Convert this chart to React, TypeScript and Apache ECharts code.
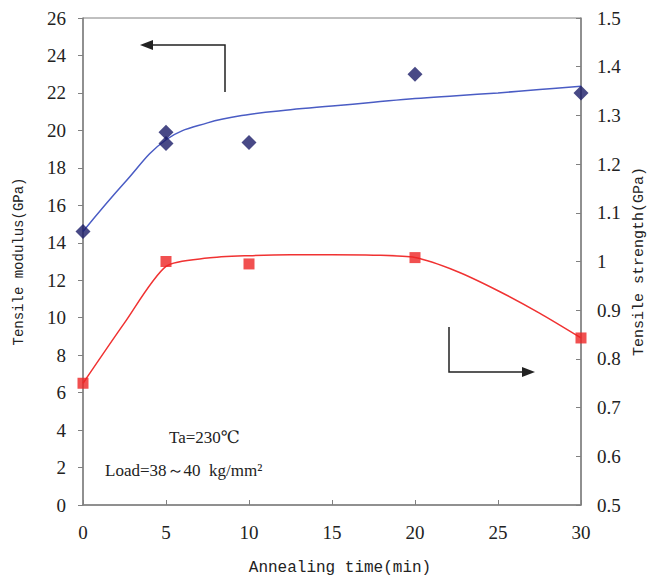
import React, { useEffect, useRef } from "react";
import * as echarts from "echarts";

// Measured points
const modulusX = [0, 5, 5, 10, 20, 30];
const modulusY = [14.6, 19.9, 19.3, 19.35, 23.0, 22.0];
const strengthX = [0, 5, 10, 20, 30];
const strengthY = [0.75, 1.0, 0.995, 1.008, 0.843];

// Fitted curves
const fitX = [0, 2.5, 5, 7.5, 10, 12.5, 15, 17.5, 20, 22.5, 25, 27.5, 30];
const modulusFitY = [14.6, 17.2, 19.5, 20.4, 20.85, 21.1, 21.3, 21.5, 21.7, 21.85, 22.0, 22.18, 22.35];
const strengthFitY = [0.75, 0.874, 0.99, 1.007, 1.012, 1.014, 1.014, 1.013, 1.008, 0.98, 0.94, 0.894, 0.843];

const xTicks = [0, 30, 5];
const leftTicks = [0, 26, 2];
const rightTicks = [0.5, 1.5, 0.1];

const serif = "'Liberation Serif', 'DejaVu Serif', serif";
const mono = "'Liberation Mono', 'DejaVu Sans Mono', monospace";

export default function App() {
  const ref = useRef<HTMLDivElement>(null);
  useEffect(() => {
    if (!ref.current) return;
    const chart = echarts.init(ref.current, undefined, { renderer: "svg" });
    const axisLine = { show: true, lineStyle: { color: "#808080", width: 1.5 } };
    const tick = { show: true, length: 5, lineStyle: { color: "#808080", width: 1 } };
    const labelStyle = { fontFamily: serif, fontSize: 19, color: "#222" };
    chart.setOption({
      animation: false,
      backgroundColor: "#ffffff",
      grid: {
        left: 83,
        top: 18,
        width: 498,
        height: 487,
        outerBoundsMode: "none",
        containLabel: false,
        show: true,
        borderColor: "#808080",
        borderWidth: 1,
      },
      xAxis: {
        type: "value",
        min: xTicks[0],
        max: xTicks[1],
        interval: xTicks[2],
        name: "Annealing time(min)",
        nameLocation: "middle",
        nameGap: 55,
        nameTextStyle: { fontFamily: mono, fontSize: 16, color: "#222", padding: [0, 0, 0, 16] },
        axisLine,
        axisTick: { ...tick, inside: true },
        axisLabel: { ...labelStyle, margin: 18 },
        splitLine: { show: false },
      },
      yAxis: [
        {
          type: "value",
          min: leftTicks[0],
          max: leftTicks[1],
          interval: leftTicks[2],
          name: "Tensile modulus(GPa)",
          nameLocation: "middle",
          nameGap: 57,
          nameRotate: 90,
          nameTextStyle: { fontFamily: mono, fontSize: 14, color: "#222" },
          axisLine,
          axisTick: tick,
          axisLabel: { ...labelStyle, margin: 17 },
          splitLine: { show: false },
        },
        {
          type: "value",
          position: "right",
          min: rightTicks[0],
          max: rightTicks[1],
          interval: rightTicks[2],
          name: "Tensile strength(GPa)",
          nameLocation: "middle",
          nameGap: 48,
          nameRotate: 90,
          nameTextStyle: { fontFamily: mono, fontSize: 15, color: "#222" },
          axisLine,
          axisTick: { ...tick, inside: true },
          axisLabel: { ...labelStyle, margin: 16 },
          splitLine: { show: false },
        },
      ],
      series: [
        {
          type: "line",
          yAxisIndex: 0,
          smooth: 0.4,
          showSymbol: false,
          lineStyle: { color: "#4a5cc4", width: 1.5 },
          data: fitX.map((x, i) => [x, modulusFitY[i]]),
          z: 2,
        },
        {
          type: "line",
          yAxisIndex: 1,
          smooth: 0.25,
          showSymbol: false,
          lineStyle: { color: "#f03232", width: 1.5 },
          data: fitX.map((x, i) => [x, strengthFitY[i]]),
          z: 2,
        },
        {
          type: "scatter",
          yAxisIndex: 0,
          symbol: "diamond",
          symbolSize: 15,
          itemStyle: { color: "#1a1b68" },
          data: modulusX.map((x, i) => [x, modulusY[i]]),
          z: 3,
        },
        {
          type: "scatter",
          yAxisIndex: 1,
          symbol: "rect",
          symbolSize: 11,
          itemStyle: { color: "#ee2424" },
          data: strengthX.map((x, i) => [x, strengthY[i]]),
          z: 3,
        },
      ],
      graphic: [
        {
          type: "polyline",
          shape: { points: [[225, 92], [225, 45], [150, 45]] },
          style: { stroke: "#222", lineWidth: 1.5, fill: null },
        },
        {
          type: "polygon",
          shape: { points: [[140, 45], [153, 40], [153, 50]] },
          style: { fill: "#222" },
        },
        {
          type: "polyline",
          shape: { points: [[449, 327], [449, 372], [525, 372]] },
          style: { stroke: "#222", lineWidth: 1.5, fill: null },
        },
        {
          type: "polygon",
          shape: { points: [[535, 372], [522, 367], [522, 377]] },
          style: { fill: "#222" },
        },
        {
          type: "text",
          x: 169,
          y: 437,
          style: {
            text: "Ta=230℃",
            font: `17px ${serif}`,
            fill: "#222",
            verticalAlign: "middle",
          },
        },
        {
          type: "text",
          x: 105,
          y: 470,
          style: {
            text: "Load=38～40  kg/mm²",
            font: `17px ${serif}`,
            fill: "#222",
            verticalAlign: "middle",
          },
        },
      ],
    });
    return () => chart.dispose();
  }, []);
  return (
    <div
      ref={ref}
      style={{ position: "fixed", left: 0, top: 0, width: 652, height: 577, background: "#fff" }}
    />
  );
}
